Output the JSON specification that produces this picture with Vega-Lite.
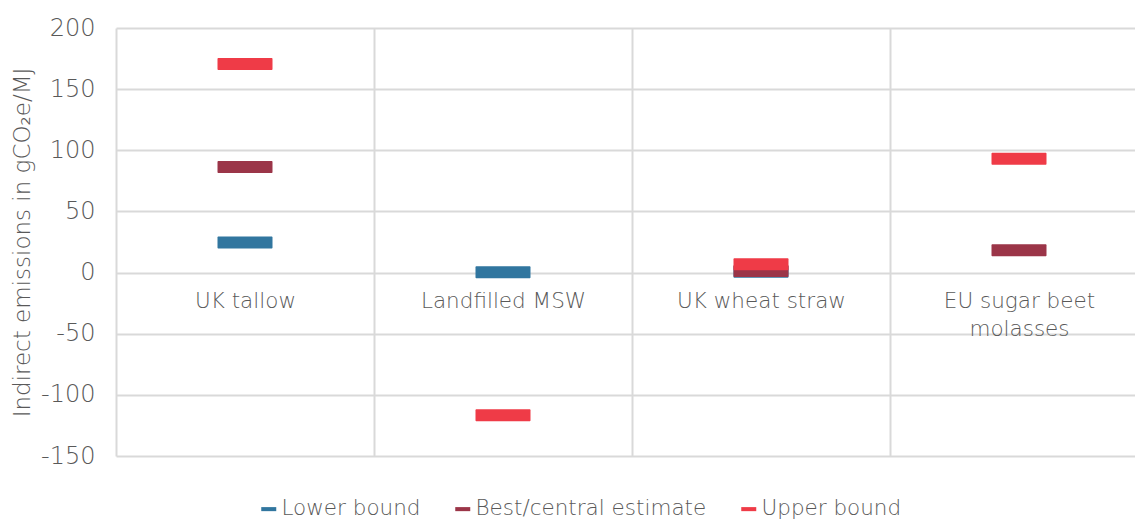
{
  "$schema": "https://vega.github.io/schema/vega-lite/v6.json",
  "autosize": {"type": "none"},
  "width": 1032,
  "height": 428,
  "padding": {"left": 116, "top": 28, "right": 0, "bottom": 63},
  "background": "white",
  "config": {
    "font": "DejaVu Sans",
    "view": {"stroke": null},
    "axis": {"labelFont": "DejaVu Sans", "titleFont": "DejaVu Sans", "labelFontWeight": 200, "titleFontWeight": 200, "labelColor": "#595959", "titleColor": "#595959", "labelFontSize": 24, "titleFontSize": 23, "gridColor": "#d9d9d9", "gridWidth": 2},
    "legend": {"labelFont": "DejaVu Sans", "labelFontWeight": 200, "labelFontSize": 21.5, "labelColor": "#595959", "labelLimit": 0}
  },
  "data": {
    "values": [
      {"feedstock": "UK tallow", "series": "Lower bound", "s": 1, "value": 24.6},
      {"feedstock": "UK tallow", "series": "Best/central estimate", "s": 2, "value": 86.3},
      {"feedstock": "UK tallow", "series": "Upper bound", "s": 3, "value": 170.5},
      {"feedstock": "Landfilled MSW", "series": "Lower bound", "s": 1, "value": 0.3},
      {"feedstock": "Landfilled MSW", "series": "Upper bound", "s": 3, "value": -116.7},
      {"feedstock": "UK wheat straw", "series": "Lower bound", "s": 1, "value": 0.7},
      {"feedstock": "UK wheat straw", "series": "Best/central estimate", "s": 2, "value": 1.3},
      {"feedstock": "UK wheat straw", "series": "Upper bound", "s": 3, "value": 6.8},
      {"feedstock": "EU sugar beet molasses", "series": "Best/central estimate", "s": 2, "value": 18.2},
      {"feedstock": "EU sugar beet molasses", "series": "Upper bound", "s": 3, "value": 93}
    ]
  },
  "mark": {"type": "tick", "orient": "horizontal", "size": 55, "thickness": 12, "cornerRadius": 1, "opacity": 1},
  "encoding": {
    "x": {
      "field": "feedstock",
      "type": "nominal",
      "sort": ["UK tallow", "Landfilled MSW", "UK wheat straw", "EU sugar beet molasses"],
      "scale": {"paddingInner": 0, "paddingOuter": 0},
      "axis": {
        "title": null,
        "orient": "bottom",
        "offset": -184,
        "domain": false,
        "ticks": false,
        "grid": true,
        "tickBand": "extent",
        "labelAngle": 0,
        "labelPadding": 18,
        "labelFontSize": 21.5,
        "labelLineHeight": 28,
        "labelLimit": 0,
        "labelExpr": "datum.value == 'EU sugar beet molasses' ? ['EU sugar beet', 'molasses'] : datum.value"
      }
    },
    "y": {
      "field": "value",
      "type": "quantitative",
      "scale": {"domain": [-150, 200], "nice": false, "zero": false},
      "axis": {
        "title": "Indirect emissions in gCO₂e/MJ",
        "values": [-150, -100, -50, 0, 50, 100, 150, 200],
        "labelExpr": "'' + datum.value",
        "domain": false,
        "ticks": false,
        "grid": true,
        "labelPadding": 21,
        "titlePadding": 6
      }
    },
    "color": {
      "field": "series",
      "type": "nominal",
      "scale": {"domain": ["Lower bound", "Best/central estimate", "Upper bound"], "range": ["#31769f", "#9b3548", "#ef3b47"]},
      "legend": {
        "title": null,
        "orient": "none",
        "direction": "horizontal",
        "legendX": 142,
        "legendY": 470,
        "symbolType": "M-1,-0.27H1V0.27H-1Z",
        "symbolSize": 225,
        "symbolStrokeWidth": 0,
        "labelOffset": 2,
        "columnPadding": 31
      }
    },
    "order": {"field": "s", "type": "quantitative"}
  }
}
